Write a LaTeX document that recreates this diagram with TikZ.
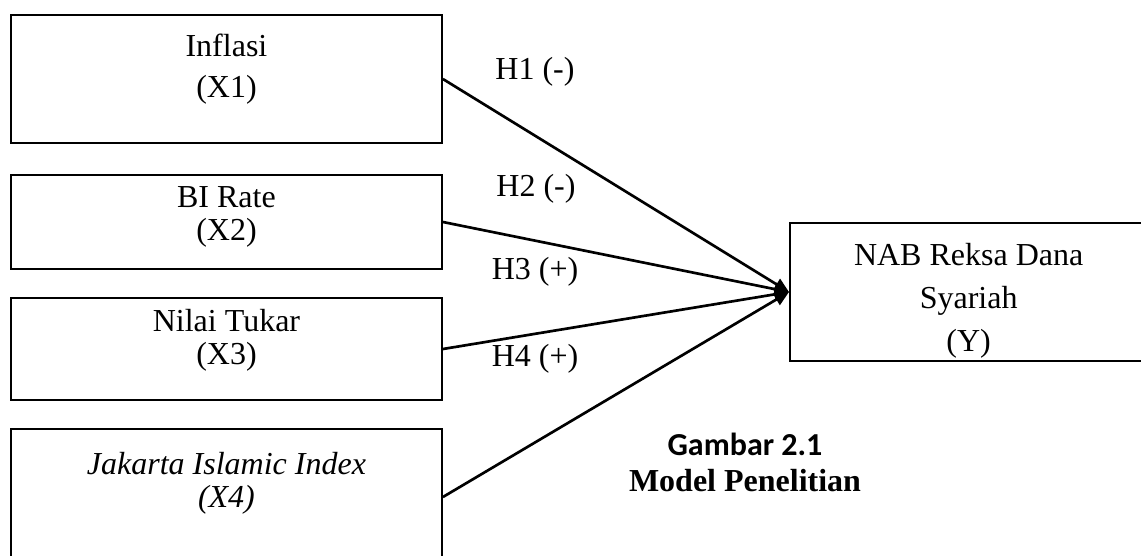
\documentclass[tikz,border=0pt]{standalone}
\usepackage{fontspec}
\setmainfont{Liberation Serif}
\newfontfamily\captionfont{Carlito}
\usetikzlibrary{arrows.meta}

\begin{document}
\begin{tikzpicture}[x=0.375pt,y=-0.375pt,
    varbox/.style={draw,line width=0.75pt,rectangle,anchor=north west,inner sep=0pt,minimum width=161.6pt},
    boxtext/.style={anchor=north,align=center,inner sep=0pt,font=\fontsize{12}{15.4}\selectfont},
    hyplabel/.style={anchor=base,inner sep=0pt,font=\fontsize{12}{14}\selectfont},
    link/.style={line width=1pt,-{Triangle[length=5.5pt,width=4.8pt]}}]

  \useasboundingbox (0,0) rectangle (1141,555);
  \clip (0,0) rectangle (1141,555);

  % variable boxes on the left
  \node[varbox,minimum height=48pt] (inflasi) at (10,14) {};
  \node[varbox,minimum height=35.25pt] (birate) at (10,174) {};
  \node[varbox,minimum height=38.25pt] (tukar) at (10,297) {};
  \node[varbox,minimum height=51pt] (jii) at (10,428) {};

  \node[boxtext] (inflasi-txt) at ([yshift=-7.1pt]inflasi.north) {Inflasi\\(X1)};
  \node[boxtext,font=\fontsize{12}{12.4}\selectfont] (birate-txt) at ([yshift=-4.5pt]birate.north) {BI Rate\\(X2)};
  \node[boxtext,font=\fontsize{12}{12.4}\selectfont] (tukar-txt) at ([yshift=-4.5pt]tukar.north) {Nilai Tukar\\(X3)};
  \node[boxtext,font=\fontsize{12}{12.4}\selectfont\itshape] (jii-txt) at ([yshift=-9pt]jii.north) {Jakarta Islamic Index\\(X4)};

  % dependent variable
  \node[varbox,minimum width=134pt,minimum height=51.75pt] (nab) at (789,222) {};
  \node[boxtext,font=\fontsize{12}{16.1}\selectfont] (nab-txt) at ([yshift=-7.9pt]nab.north) {NAB Reksa Dana\\Syariah\\(Y)};

  % hypotheses
  \draw[link] (inflasi.east) -- (nab.west);
  \draw[link] (birate.east) -- (nab.west);
  \draw[link] (tukar.east) -- (nab.west);
  \draw[link] (jii.east) -- (nab.west);

  \node[hyplabel] (h1) at (535,79) {H1 (-)};
  \node[hyplabel] (h2) at (536,196) {H2 (-)};
  \node[hyplabel] (h3) at (535,279) {H3 (+)};
  \node[hyplabel] (h4) at (535,366) {H4 (+)};

  % caption
  \node[anchor=base,inner sep=0pt,font=\captionfont\bfseries\fontsize{12}{14}\selectfont] (gambar) at (745,455) {Gambar 2.1};
  \node[anchor=base,inner sep=0pt,font=\bfseries\fontsize{12}{14}\selectfont] (judul) at (745,491) {Model Penelitian};

\end{tikzpicture}
\end{document}
